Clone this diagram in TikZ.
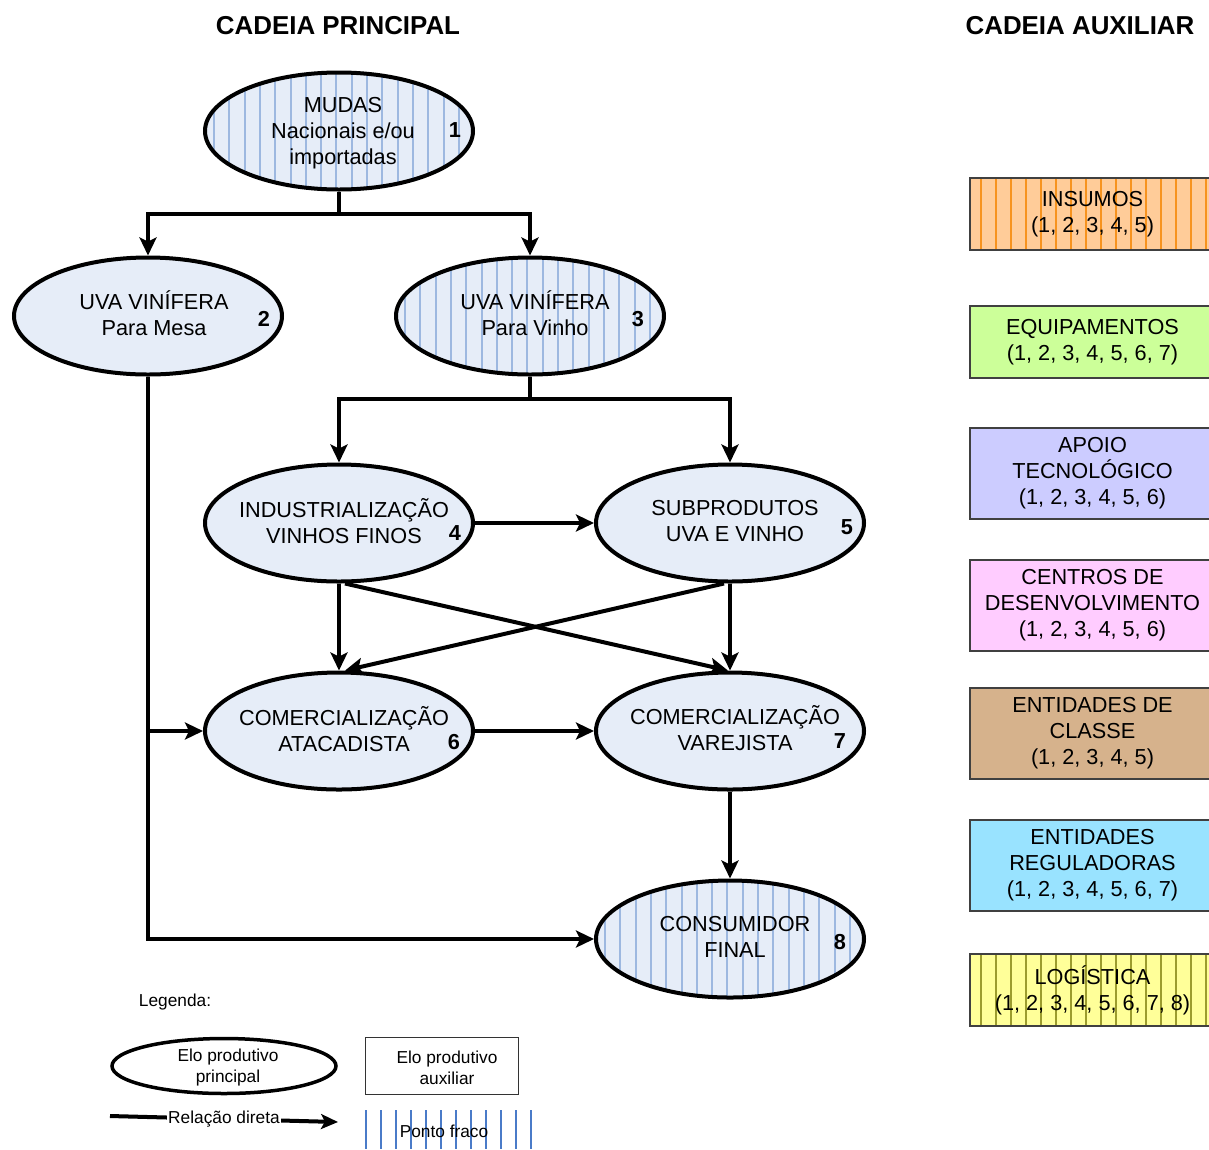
\documentclass[tikz,border=0pt]{standalone}
\usepackage{fontspec}
\setmainfont{Liberation Sans}
\usetikzlibrary{arrows.meta,shapes.geometric}

\definecolor{eloFill}{HTML}{E6EDF8}
\definecolor{eloHatch}{HTML}{9DB8E0}
\definecolor{legHatch}{HTML}{4A7BC8}
\definecolor{insFill}{HTML}{FFCC99}
\definecolor{insHatch}{HTML}{F7931E}
\definecolor{equFill}{HTML}{CCFF99}
\definecolor{apoFill}{HTML}{CCCCFF}
\definecolor{cenFill}{HTML}{FFCCFF}
\definecolor{claFill}{HTML}{D6B28C}
\definecolor{regFill}{HTML}{99E3FF}
\definecolor{logFill}{HTML}{FFFF99}
\definecolor{logHatch}{HTML}{9C9C2E}

\begin{document}
\begin{tikzpicture}[x=1pt,y=-1pt,line join=miter,
  arr/.style={line width=4pt,-{Stealth[length=18pt,width=17pt,inset=4pt]}},
  elo/.style={ellipse,draw=black,line width=4pt,fill=eloFill,minimum width=268pt,
    minimum height=117pt,inner sep=0pt},
  eloText/.style={align=center,inner sep=0pt,font=\fontsize{21.7}{26}\selectfont},
  weak/.style={path picture={\foreach \k in {9,24.3,...,272}
    \draw[eloHatch,line width=2pt] ([xshift=\k pt]path picture bounding box.south west)
      -- ([xshift=\k pt]path picture bounding box.north west);}},
  aux/.style={draw=black!75,line width=1.5pt,minimum width=245pt,inner sep=0pt,
    align=center,font=\fontsize{21.7}{26}\selectfont},
  auxHatch/.style={path picture={\foreach \k in {10.5,25.5,...,245}
    \draw[#1,line width=2pt] ([xshift=\k pt]path picture bounding box.south west)
      -- ([xshift=\k pt]path picture bounding box.north west);}},
  num/.style={font=\fontsize{21.7}{26}\selectfont\bfseries,inner sep=0pt},
  title/.style={font=\fontsize{25.9}{30}\selectfont\bfseries},
  legend/.style={font=\fontsize{17.3}{21}\selectfont,align=center}]
\useasboundingbox (0,0) rectangle (1209,1149);

% titulos
\node[title] (tp) at (338,26) {CADEIA PRINCIPAL};
\node[title] (ta) at (1080,26) {CADEIA AUXILIAR};

% elos principais
\node[elo,weak] (e1) at (339,131) {};
\node[elo] (e2) at (148,316) {};
\node[elo,weak] (e3) at (530,316) {};
\node[elo] (e4) at (339,523) {};
\node[elo] (e5) at (730,523) {};
\node[elo] (e6) at (339,731) {};
\node[elo] (e7) at (730,731) {};
\node[elo,weak] (e8) at (730,939) {};

\node[eloText] (t1) at ([shift={(4,2)}]e1.center) {MUDAS\\Nacionais e/ou\\importadas};
\node[eloText] (t2) at ([shift={(6,-3)}]e2.center) {UVA VINÍFERA\\Para Mesa};
\node[eloText] (t3) at ([shift={(5,-3)}]e3.center) {UVA VINÍFERA\\Para Vinho};
\node[eloText] (t4) at ([shift={(5,-2)}]e4.center) {INDUSTRIALIZAÇÃO\\VINHOS FINOS};
\node[eloText] (t5) at ([shift={(5,-2)}]e5.center) {SUBPRODUTOS\\UVA E VINHO};
\node[eloText] (t6) at ([shift={(5,-2)}]e6.center) {COMERCIALIZAÇÃO\\ATACADISTA};
\node[eloText] (t7) at ([shift={(5,-3)}]e7.center) {COMERCIALIZAÇÃO\\VAREJISTA};
\node[eloText] (t8) at ([shift={(5,-2)}]e8.center) {CONSUMIDOR\\FINAL};

\node[num] (n1) at ([shift={(116,-1)}]e1.center) {1};
\node[num] (n2) at ([shift={(116,3)}]e2.center) {2};
\node[num] (n3) at ([shift={(108,3)}]e3.center) {3};
\node[num] (n4) at ([shift={(116,10)}]e4.center) {4};
\node[num] (n5) at ([shift={(117,4)}]e5.center) {5};
\node[num] (n6) at ([shift={(115,11)}]e6.center) {6};
\node[num] (n7) at ([shift={(110,10)}]e7.center) {7};
\node[num] (n8) at ([shift={(110,3)}]e8.center) {8};

% ligacoes
\coordinate (s1) at (339,214);
\coordinate (s3) at (530,399);
\draw[arr] (e1.south) -- (s1) -| (e2.north);
\draw[arr] (s1) -| (e3.north);
\draw[arr] (e3.south) -- (s3) -| (e4.north);
\draw[arr] (s3) -| (e5.north);
\draw[arr] (e4.east) -- (e5.west);
\draw[arr] (e4.south) -- (e6.north);
\draw[arr] (e5.south) -- (e7.north);
\draw[arr] ([xshift=6pt]e4.south) -- ([xshift=-2pt]e7.north);
\draw[arr] ([xshift=-6pt]e5.south) -- ([xshift=6pt]e6.north);
\draw[arr] (e6.east) -- (e7.west);
\draw[arr] (e7.south) -- (e8.north);
\draw[arr] (e2.south) |- (e6.west);
\draw[arr] (e2.south) |- (e8.west);

% cadeia auxiliar
\node[aux,fill=insFill,auxHatch=insHatch,minimum height=72pt] (a1) at (1092.5,214) {INSUMOS\\(1, 2, 3, 4, 5)};
\node[aux,fill=equFill,minimum height=72pt] (a2) at (1092.5,342) {EQUIPAMENTOS\\(1, 2, 3, 4, 5, 6, 7)};
\node[aux,fill=apoFill,minimum height=91pt] (a3) at (1092.5,473.5) {APOIO\\TECNOLÓGICO\\(1, 2, 3, 4, 5, 6)};
\node[aux,fill=cenFill,minimum height=91pt] (a4) at (1092.5,605.5) {CENTROS DE\\DESENVOLVIMENTO\\(1, 2, 3, 4, 5, 6)};
\node[aux,fill=claFill,minimum height=91pt] (a5) at (1092.5,733.5) {ENTIDADES DE\\CLASSE\\(1, 2, 3, 4, 5)};
\node[aux,fill=regFill,minimum height=91pt] (a6) at (1092.5,865.5) {ENTIDADES\\REGULADORAS\\(1, 2, 3, 4, 5, 6, 7)};
\node[aux,fill=logFill,auxHatch=logHatch,minimum height=72pt] (a7) at (1092.5,990) {LOGÍSTICA\\(1, 2, 3, 4, 5, 6, 7, 8)};

% legenda
\node[legend] (leg) at (175,1002) {Legenda:};
\node[legend,ellipse,draw=black,line width=3.5pt,minimum width=224pt,minimum height=55pt,inner sep=0pt] (le) at (224,1066) {};
\node[legend] (let) at (228,1068) {Elo produtivo\\principal};
\node[legend,draw=black!80,line width=1pt,minimum width=153pt,minimum height=57pt,inner sep=0pt] (lr) at (442,1066) {};
\node[legend] (lrt) at (447,1068) {Elo produtivo\\auxiliar};
\coordinate (la) at (110,1116);
\coordinate (lb) at (338,1122);
\draw[arr,-{Stealth[length=17pt,width=15pt,inset=4pt]}] (la) -- node[legend,fill=white,inner sep=1pt] (rel) {Relação direta} (lb);
\foreach \k in {366,381,...,534}
  \draw[legHatch,line width=1.5pt] (\k,1110) -- (\k,1149);
\node[legend] (pf) at (444,1131) {Ponto fraco};
\end{tikzpicture}
\end{document}
